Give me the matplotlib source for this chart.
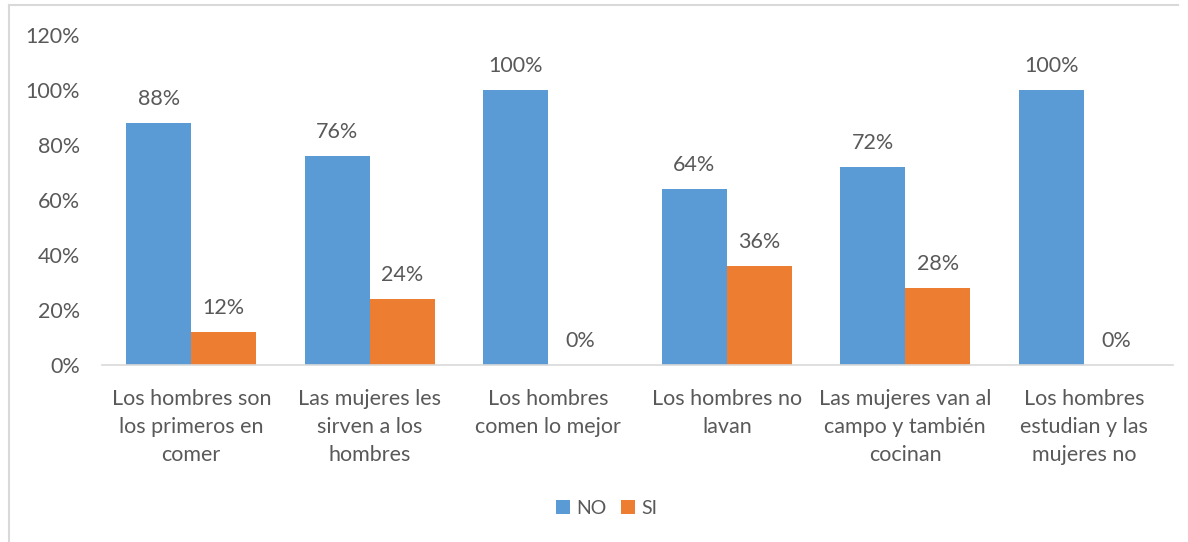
import numpy as np
import matplotlib.pyplot as plt
from matplotlib.lines import Line2D

categorias = [
    "Los hombres son\nlos primeros en\ncomer",
    "Las mujeres les\nsirven a los\nhombres",
    "Los hombres\ncomen lo mejor",
    "Los hombres no\nlavan",
    "Las mujeres van al\ncampo y también\ncocinan",
    "Los hombres\nestudian y las\nmujeres no",
]
no = [88, 76, 100, 64, 72, 100]
si = [12, 24, 0, 36, 28, 0]

azul = "#5B9BD5"
naranja = "#ED7D31"
gris = "#595959"
fs = 15.5

plt.rcParams["font.family"] = ["Lato", "DejaVu Sans"]

fig = plt.figure(figsize=(11.88, 5.42), dpi=100)
ax = fig.add_axes([102 / 1188, 1 - 365 / 542, (1173 - 102) / 1188, 330 / 542])

x = np.arange(len(categorias))
ancho = 0.364
b1 = ax.bar(x - ancho / 2, no, ancho, color=azul, label="NO")
b2 = ax.bar(x + ancho / 2, si, ancho, color=naranja, label="SI")

for barras in (b1, b2):
    for b in barras:
        h = b.get_height()
        ax.annotate(f"{h:.0f}%", (b.get_x() + b.get_width() / 2, h),
                    xytext=(0, 17), textcoords="offset points",
                    ha="center", va="center", fontsize=fs, color=gris)

ax.set_xlim(-0.5, len(categorias) - 0.5)
ax.set_ylim(0, 120)
ax.set_yticks(range(0, 121, 20))
ax.set_yticklabels([f"{v}%" for v in range(0, 121, 20)])
ax.set_xticks(x)
ax.set_xticklabels(categorias, linespacing=1.5)
ax.tick_params(axis="both", length=0, labelsize=fs, colors=gris)
ax.tick_params(axis="y", pad=16)
ax.tick_params(axis="x", pad=17)

for s in ("top", "right", "left"):
    ax.spines[s].set_visible(False)
ax.spines["bottom"].set_color("#D9D9D9")
ax.spines["bottom"].set_linewidth(1.2)

ax.legend(loc="center", bbox_to_anchor=(607 / 1188, 1 - 508 / 542), bbox_transform=fig.transFigure,
          ncol=2, frameon=False, fontsize=14, labelcolor=gris,
          handlelength=0.7, handleheight=0.7, handletextpad=0.35, columnspacing=0.75)

# marco del gráfico
fig.add_artist(Line2D([9 / 1188, 1178 / 1188], [1 - 5 / 542, 1 - 5 / 542],
                      transform=fig.transFigure, color="#D9D9D9", lw=1.5))
fig.add_artist(Line2D([9 / 1188, 9 / 1188], [0, 1 - 5 / 542],
                      transform=fig.transFigure, color="#D9D9D9", lw=1.5))

fig.savefig("out.png", dpi=100)
